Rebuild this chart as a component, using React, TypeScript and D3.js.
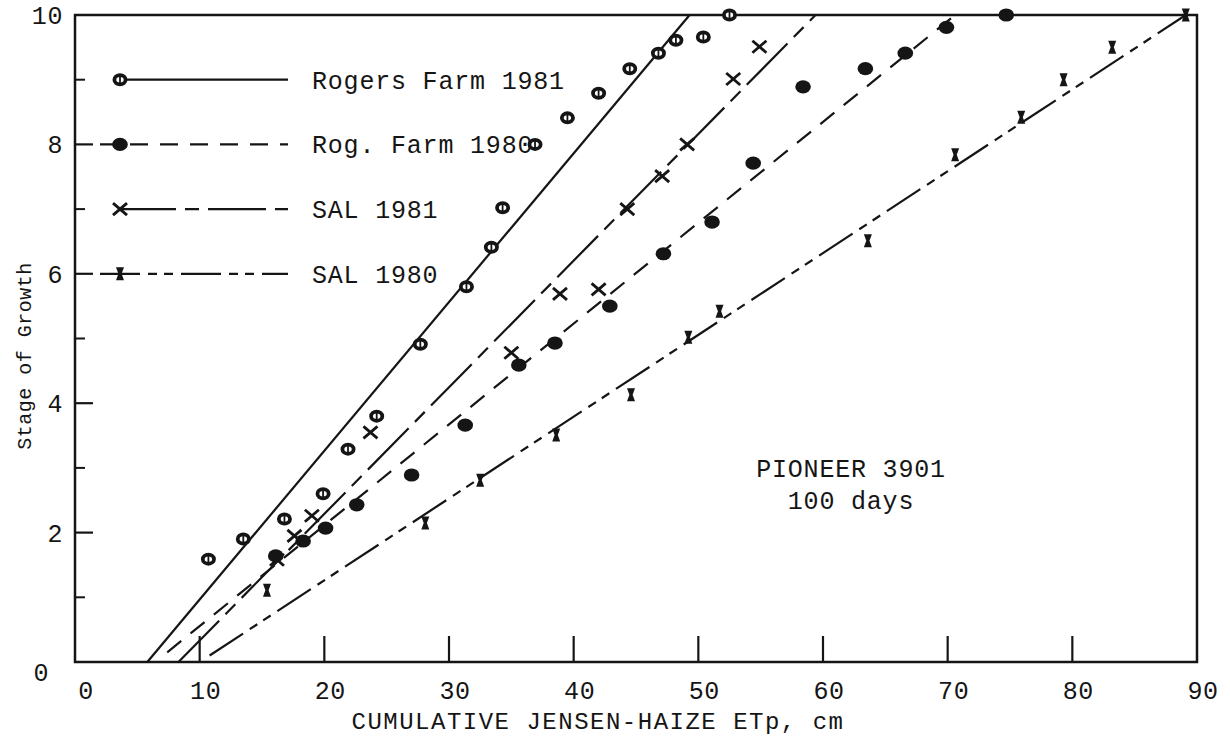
import React from 'react';
import * as d3 from 'd3';

const W = 1230;
const H = 736;
const margin = {left: 75, right: 33, top: 15, bottom: 74};

// axis ticks
const xTicks = [0, 10, 20, 30, 40, 50, 60, 70, 80, 90];
const yTicks = [0, 2, 4, 6, 8, 10];
const yMinor = [1, 3, 5, 7, 9];

// Rogers Farm 1981 (open marker)
const rog81X = [10.7, 13.5, 16.8, 19.9, 21.9, 24.2, 27.7, 31.4, 33.4, 34.3, 36.9, 39.5, 42.0, 44.5, 46.8, 48.2, 50.4, 52.5];
const rog81Y = [1.59, 1.9, 2.21, 2.6, 3.29, 3.8, 4.91, 5.8, 6.41, 7.02, 8.0, 8.41, 8.79, 9.17, 9.41, 9.61, 9.66, 10.0];

// Rog. Farm 1980 (filled marker)
const rog80X = [16.1, 18.3, 20.1, 22.6, 27.0, 31.3, 35.6, 38.5, 42.9, 47.2, 51.1, 54.4, 58.4, 63.4, 66.6, 69.9, 74.7];
const rog80Y = [1.64, 1.87, 2.07, 2.43, 2.89, 3.66, 4.59, 4.93, 5.5, 6.31, 6.8, 7.71, 8.89, 9.17, 9.41, 9.81, 10.0];

// SAL 1981 (x marker)
const sal81X = [16.2, 17.6, 19.0, 23.7, 35.0, 38.9, 42.0, 44.3, 47.1, 49.1, 52.8, 54.9];
const sal81Y = [1.58, 1.95, 2.26, 3.55, 4.78, 5.69, 5.76, 7.0, 7.51, 8.0, 9.01, 9.51];

// SAL 1980 (I marker)
const sal80X = [15.4, 28.1, 32.5, 38.6, 44.6, 49.2, 51.7, 63.6, 70.6, 75.9, 79.3, 83.2, 89.1];
const sal80Y = [1.11, 2.15, 2.81, 3.51, 4.13, 5.02, 5.42, 6.51, 7.84, 8.42, 9.0, 9.5, 10.0];

// fitted lines, [x, y] end points
const rog81Fit: [number, number][] = [[5.8, 0], [49.3, 10]];
const rog80Fit: [number, number][] = [[7.4, 0.15], [70.6, 10]];
const sal81Fit: [number, number][] = [[8.3, 0], [59.4, 10]];
const sal80Fit: [number, number][] = [[10.8, 0.1], [89.1, 10]];

const legendNames = ['Rogers Farm 1981', 'Rog. Farm 1980', 'SAL 1981', 'SAL 1980'];
const legendLevels = [9, 8, 7, 6];

const INK = '#151515';
const FONT = '"Liberation Mono", "DejaVu Sans Mono", monospace';

const x = d3.scaleLinear().domain([0, 90]).range([margin.left, W - margin.right]);
const y = d3.scaleLinear().domain([0, 10]).range([H - margin.bottom, margin.top]);
const line = d3.line<[number, number]>().x(d => x(d[0])).y(d => y(d[1]));

const dashes = ['none', '18,12', '58,9,14,9', '40,8,9,7,9,8'];

function Marker({kind, cx, cy}: {kind: number; cx: number; cy: number}) {
  const t = `translate(${cx},${cy})`;
  if (kind === 0) {
    return (
      <g transform={t}>
        <ellipse rx={5.6} ry={4.6} fill="#fff" stroke={INK} strokeWidth={3.8} />
        <line x1={0} x2={0} y1={-4} y2={4} stroke={INK} strokeWidth={1.8} />
      </g>
    );
  }
  if (kind === 1) {
    return <ellipse transform={t} rx={7.8} ry={6.6} fill={INK} />;
  }
  if (kind === 2) {
    return (
      <g transform={t} stroke={INK} strokeWidth={2.8}>
        <line x1={-7} y1={-6} x2={7} y2={6} />
        <line x1={-7} y1={6} x2={7} y2={-6} />
      </g>
    );
  }
  return <path transform={t} d="M-4,-6.5 L4,-6.5 L1.6,0 L4,6.5 L-4,6.5 L-1.6,0 Z" fill={INK} />;
}

export default function App() {
  const series = [
    {xs: rog81X, ys: rog81Y, fit: rog81Fit},
    {xs: rog80X, ys: rog80Y, fit: rog80Fit},
    {xs: sal81X, ys: sal81Y, fit: sal81Fit},
    {xs: sal80X, ys: sal80Y, fit: sal80Fit},
  ];
  const x0 = x(0), x90 = x(90), yb = y(0), yt = y(10);

  return (
    <svg width={W} height={H} style={{position: 'absolute', left: 0, top: 0, background: '#fff'}}
      fontFamily={FONT} fill={INK}>
      {/* frame */}
      <path d={`M${x0},${yt} V${yb} H${x90} V${yt} Z`} fill="none" stroke={INK} strokeWidth={2.5} />

      {/* x ticks */}
      {xTicks.slice(1, -1).map(v => (
        <line key={'xt' + v} x1={x(v)} x2={x(v)} y1={yb} y2={yb - 26} stroke={INK} strokeWidth={2.2} />
      ))}
      {xTicks.map(v => (
        <text key={'xl' + v} x={x(v) + 6 + (v === 0 ? 5 : 0)} y={yb + 37} fontSize={25} textAnchor="middle" letterSpacing={0.6}>{v}</text>
      ))}

      {/* y ticks */}
      {yTicks.slice(1, -1).map(v => (
        <line key={'yt' + v} x1={x0} x2={x0 + 18} y1={y(v)} y2={y(v)} stroke={INK} strokeWidth={2.2} />
      ))}
      {yMinor.map(v => (
        <line key={'ym' + v} x1={x0} x2={x0 + 10} y1={y(v)} y2={y(v)} stroke={INK} strokeWidth={2} />
      ))}
      {yTicks.map(v => (
        <text key={'yl' + v} x={x0 - 12 - (v === 0 ? 14 : 0)} y={y(v) + 9 + (v === 0 ? 10 : 0)} fontSize={25} textAnchor="end" letterSpacing={0.6}>{v}</text>
      ))}

      {/* axis titles */}
      <text x={598} y={729} fontSize={24} textAnchor="middle" letterSpacing={1.5}>CUMULATIVE JENSEN-HAIZE ETp, cm</text>
      <text transform="translate(31,356) rotate(-90)" fontSize={20} textAnchor="middle" letterSpacing={0.5}>Stage of Growth</text>

      {/* fitted lines */}
      {series.map((s, i) => (
        <path key={'fit' + i} d={line(s.fit) || ''} fill="none" stroke={INK} strokeWidth={2.2}
          strokeDasharray={dashes[i] === 'none' ? undefined : dashes[i]} />
      ))}

      {/* points */}
      {series.map((s, i) => s.xs.map((v, j) => (
        <Marker key={`p${i}-${j}`} kind={i} cx={x(v)} cy={y(s.ys[j])} />
      )))}

      {/* legend */}
      {legendNames.map((name, i) => {
        const ly = y(legendLevels[i]);
        const start = i === 1 || i === 3 ? 100 : 118;
        return (
          <g key={'lg' + i}>
            <line x1={start} x2={288} y1={ly} y2={ly} stroke={INK} strokeWidth={2.2}
              strokeDasharray={dashes[i] === 'none' ? undefined : dashes[i]} />
            <Marker kind={i} cx={120} cy={ly} />
            <text x={312} y={ly + 9} fontSize={25} letterSpacing={0.8}>{name}</text>
          </g>
        );
      })}

      {/* annotation */}
      <text x={851} y={477} fontSize={25} textAnchor="middle" letterSpacing={0.8}>PIONEER 3901</text>
      <text x={851} y={509} fontSize={25} textAnchor="middle" letterSpacing={0.8}>100 days</text>
    </svg>
  );
}
